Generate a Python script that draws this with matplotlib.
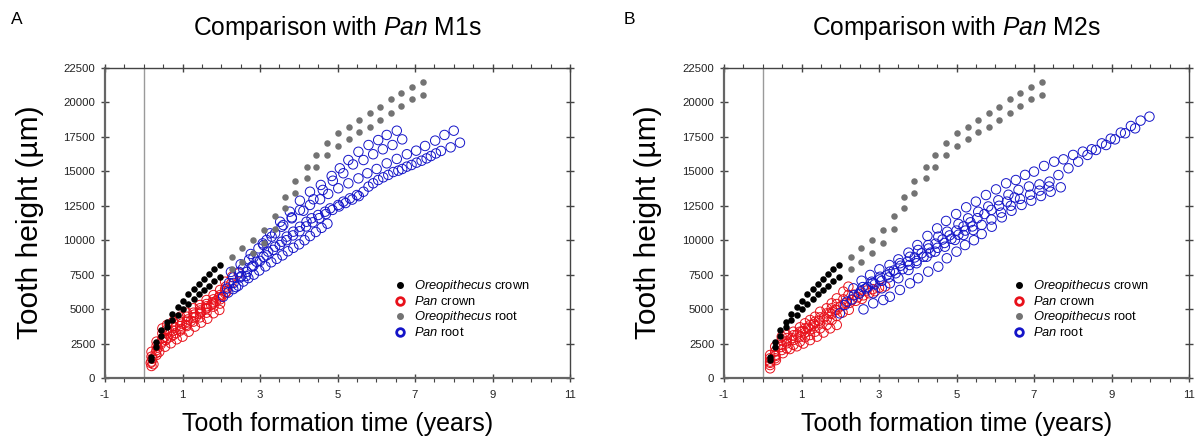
import matplotlib
matplotlib.use('Agg')
import matplotlib.pyplot as plt
from matplotlib.lines import Line2D
from matplotlib.ticker import MultipleLocator

plt.rcParams['font.family'] = ['Liberation Sans', 'DejaVu Sans']
plt.rcParams['mathtext.fontset'] = 'custom'
plt.rcParams['mathtext.it'] = 'Liberation Sans:italic'
plt.rcParams['mathtext.rm'] = 'Liberation Sans'

# ---------------- data ----------------
oreo_crown_x = [0.19, 0.32, 0.45, 0.59, 0.73, 0.88, 1.00, 1.15, 1.29, 1.42, 1.56, 1.69, 1.82, 1.98]
oreo_crown_upper = [1550, 2590, 3480, 4090, 4650, 5180, 5610, 6070, 6440, 6820, 7160, 7530, 7890, 8200]
oreo_crown_lower = [1300, 2230, 3070, 3680, 4210, 4570, 4980, 5350, 5710, 6070, 6390, 6700, 7040, 7350]

oreo_root_x = [2.27, 2.53, 2.81, 3.10, 3.39, 3.65, 3.90, 4.20, 4.45, 4.72, 5.00, 5.30, 5.56, 5.84, 6.10, 6.37, 6.64, 6.92, 7.20]
oreo_root_upper = [8810, 9410, 10020, 10740, 11760, 13160, 14320, 15340, 16190, 17050, 17780, 18240, 18730, 19210, 19690, 20230, 20660, 21150, 21460]
oreo_root_lower = [7890, 8440, 9100, 9820, 10790, 12320, 13400, 14490, 15340, 16160, 16840, 17320, 17880, 18240, 18730, 19260, 19740, 20230, 20540]

# Panel A: Pan M1 crowns
m1_crown_x = [
    [0.20, 0.33, 0.48, 0.60, 0.76, 0.94, 1.11, 1.28, 1.45, 1.62, 1.80, 1.97, 2.10],
    [0.20, 0.33, 0.48, 0.60, 0.76, 0.94, 1.11, 1.28, 1.45, 1.62, 1.80, 1.97, 2.12, 2.28, 2.45],
    [0.20, 0.33, 0.48, 0.60, 0.76, 0.94, 1.11, 1.28, 1.45, 1.62, 1.80, 1.97, 2.10],
    [0.20, 0.33, 0.48, 0.60, 0.76, 0.94, 1.11, 1.28, 1.45, 1.62, 1.80, 1.97],
    [0.25, 0.40, 0.55, 0.70, 0.85, 1.00, 1.16, 1.32, 1.48, 1.64, 1.80, 1.95],
    [0.22, 0.36, 0.51, 0.66, 0.82, 0.98, 1.14, 1.30, 1.46, 1.62, 1.78, 1.94, 2.10, 2.26],
    [0.18, 0.31, 0.44, 0.57, 0.70, 0.83, 0.96, 1.09, 1.22, 1.35, 1.48, 1.61, 1.74, 1.87, 2.00, 2.13],
]
m1_crown_y = [
    [1900, 2640, 3600, 3850, 4090, 4450, 4740, 5060, 5300, 5660, 6020, 6390, 6990],
    [1550, 2320, 3240, 3530, 3770, 4090, 4450, 4740, 5060, 5370, 5710, 6020, 6630, 7350, 7600],
    [1190, 2030, 2880, 3240, 3440, 3770, 4090, 4400, 4690, 5060, 5420, 5710, 6150],
    [870, 1670, 2640, 2880, 3120, 3440, 3770, 4090, 4400, 4740, 5180, 5400],
    [1000, 1900, 2270, 2520, 2810, 3000, 3360, 3730, 4020, 4300, 4700, 4940],
    [1400, 2200, 2950, 3400, 3650, 3950, 4250, 4600, 4900, 5200, 5500, 5850, 6450, 6870],
    [1100, 1800, 2450, 2750, 3000, 3250, 3550, 3850, 4150, 4450, 4800, 5050, 5300, 5600, 5900, 6250],
]
# Panel A: Pan M1 roots
m1_root_x = [
    [2.25, 2.50, 2.76, 3.07, 3.26, 3.52, 3.77, 4.03, 4.29, 4.57, 4.85, 5.06, 5.28, 5.54, 5.80, 6.05, 6.27, 6.53],
    [2.31, 2.56, 2.83, 3.09, 3.30, 3.56, 3.82, 4.12, 4.38, 4.62, 4.88, 5.15, 5.40, 5.67, 5.92, 6.17, 6.42, 6.67],
    [2.20, 2.46, 2.72, 2.96, 3.17, 3.39, 3.60, 3.82, 4.03, 4.29, 4.55, 4.76, 5.02, 5.28, 5.54, 5.77, 6.01, 6.27, 6.53, 6.79, 7.03, 7.26, 7.52, 7.76, 8.00],
    [2.52, 2.79, 3.09, 3.39, 3.69, 4.03, 4.33, 4.68, 5.02, 5.32, 5.67, 5.92, 6.18, 6.44, 6.67, 6.91, 7.17, 7.41, 7.67, 7.92, 8.16],
    [2.38, 2.64, 2.91, 3.21, 3.56, 3.86, 4.20, 4.50, 4.81, 5.15, 5.50, 5.80, 6.05, 6.31, 6.57, 6.79, 7.04, 7.30, 7.54],
    [2.05, 2.18, 2.31, 2.44, 2.57, 2.70, 2.84, 2.98, 3.14, 3.29, 3.43, 3.58, 3.72, 3.86, 4.01, 4.15, 4.29, 4.44, 4.59, 4.74],
    [2.15, 2.32, 2.49, 2.66, 2.83, 3.00, 3.17, 3.34, 3.51, 3.68, 3.85, 4.02, 4.19, 4.36, 4.53, 4.70, 4.87, 5.04, 5.21, 5.38, 5.55],
]
m1_root_y = [
    [7700, 8250, 9000, 9770, 10500, 11340, 12070, 12870, 13520, 14010, 14660, 15220, 15820, 16420, 16910, 17270, 17640, 17950],
    [7300, 7950, 8750, 9650, 10260, 10980, 11590, 12140, 12970, 13650, 14320, 14860, 15500, 15820, 16240, 16600, 16910, 17320],
    [6900, 7700, 8600, 9410, 10020, 10500, 11100, 11660, 12190, 12560, 12970, 13360, 13770, 14130, 14490, 14860, 15170, 15580, 15900, 16240, 16500, 16840, 17230, 17640, 17950],
    [7400, 8080, 8800, 9530, 10260, 10980, 11590, 12070, 12560, 13040, 13520, 14130, 14565, 14950, 15170, 15460, 15770, 16110, 16480, 16740, 17080],
    [6600, 7400, 8440, 9170, 9890, 10620, 11340, 11830, 12310, 12800, 13280, 13890, 14370, 14740, 15050, 15340, 15630, 15940, 16300],
    [5900, 6200, 6450, 6700, 7000, 7250, 7500, 7800, 8100, 8400, 8650, 8900, 9200, 9450, 9700, 10000, 10300, 10600, 10900, 11200],
    [6500, 6900, 7300, 7700, 8150, 8500, 8900, 9300, 9650, 10000, 10350, 10650, 11000, 11300, 11600, 11900, 12200, 12450, 12700, 12950, 13200],
]

# Panel B: Pan M2 crowns
m2_crown_x = [
    [0.19, 0.32, 0.49, 0.62, 0.79, 0.96, 1.09, 1.22, 1.35, 1.48, 1.65, 1.78, 1.91, 2.08, 2.21],
    [0.19, 0.32, 0.49, 0.62, 0.79, 0.96, 1.09, 1.22, 1.35, 1.48, 1.65, 1.78, 1.91, 2.08, 2.21, 2.36, 2.52, 2.68, 2.84, 3.00, 3.16],
    [0.19, 0.32, 0.49, 0.62, 0.79, 0.96, 1.09, 1.22, 1.35, 1.48, 1.65, 1.78, 1.91, 2.08, 2.24, 2.40, 2.56],
    [0.19, 0.32, 0.49, 0.62, 0.79, 0.96, 1.09, 1.22, 1.35, 1.48, 1.65, 1.78, 1.91, 2.06, 2.22],
    [0.19, 0.34, 0.52, 0.70, 0.88, 1.05, 1.22, 1.40, 1.57, 1.74, 1.91],
    [0.19, 0.33, 0.47, 0.61, 0.75, 0.89, 1.03, 1.17, 1.31, 1.45, 1.59, 1.73, 1.87, 2.01, 2.15, 2.30, 2.45, 2.60, 2.75, 2.90],
]
m2_crown_y = [
    [1670, 2270, 3000, 3120, 3360, 3680, 3970, 4210, 4450, 4810, 5060, 5420, 5780, 6270, 6630],
    [1430, 1910, 2760, 2900, 3100, 3360, 3600, 3850, 4090, 4400, 4690, 5060, 5370, 5710, 6020, 6050, 6200, 6350, 6450, 6550, 6650],
    [1190, 1670, 2400, 2520, 2760, 3000, 3290, 3530, 3770, 4020, 4260, 4650, 4940, 5300, 5450, 5600, 5750],
    [940, 1430, 2030, 2150, 2400, 2640, 2950, 3120, 3360, 3600, 3850, 4210, 4500, 4750, 4950],
    [700, 1300, 1800, 2100, 2300, 2500, 2750, 3000, 3300, 3600, 3850],
    [1100, 1600, 2250, 2650, 2900, 3150, 3400, 3650, 3900, 4150, 4400, 4700, 4950, 5200, 5450, 5650, 5850, 6000, 6150, 6300],
]
# Panel B: Pan M2 roots
m2_root_x = [
    [2.34, 2.55, 2.77, 3.01, 3.27, 3.50, 3.76, 3.99, 4.25, 4.50, 4.73, 4.99, 5.25, 5.50, 5.76, 6.02, 6.28, 6.53, 6.77, 7.00, 7.26, 7.52, 7.76, 8.01, 8.26, 8.49, 8.75, 8.98, 9.24, 9.50, 9.75, 9.98],
    [2.58, 2.81, 3.03, 3.28, 3.54, 3.80, 4.01, 4.27, 4.53, 4.76, 5.05, 5.30, 5.56, 5.82, 6.08, 6.34, 6.60, 6.87, 7.14, 7.40, 7.63, 7.89, 8.14, 8.38, 8.60, 8.86, 9.09, 9.35, 9.61],
    [2.85, 3.07, 3.28, 3.50, 3.76, 3.97, 4.23, 4.45, 4.70, 4.96, 5.18, 5.43, 5.65, 5.90, 6.15, 6.40, 6.64, 6.90, 7.14, 7.39],
    [2.60, 2.85, 3.11, 3.28, 3.54, 3.80, 4.01, 4.27, 4.53, 4.75, 5.00, 5.22, 5.45, 5.65, 5.91, 6.17, 6.42, 6.68, 6.93, 7.18, 7.43, 7.69],
    [2.12, 2.30, 2.48, 2.66, 2.84, 3.02, 3.20, 3.38, 3.56, 3.74, 3.92, 4.10, 4.28, 4.46, 4.64, 4.82, 5.00, 5.18, 5.36, 5.54, 5.72, 5.90, 6.10, 6.30, 6.50],
    [1.99, 2.17, 2.35, 2.53, 2.71, 2.89, 3.07, 3.25, 3.43, 3.61, 3.79, 3.97, 4.15, 4.33, 4.51, 4.69, 4.87, 5.05, 5.23, 5.41],
]
m2_root_y = [
    [6510, 7060, 7480, 7890, 8200, 8610, 9100, 9650, 10310, 10860, 11400, 11900, 12390, 12800, 13280, 13690, 14130, 14370, 14740, 14980, 15390, 15700, 15870, 16190, 16430, 16600, 17030, 17370, 17810, 18290, 18680, 18970],
    [6600, 6990, 7350, 7720, 8330, 8800, 9290, 9650, 10260, 10620, 11180, 11590, 12070, 12450, 12900, 13300, 13650, 13900, 14050, 14250, 14730, 15220, 15700, 16190, 16550, 16910, 17320, 17760, 18120],
    [6150, 6510, 6870, 7240, 7840, 8330, 8800, 9170, 9530, 10020, 10380, 10740, 11110, 11500, 12000, 12500, 13000, 13300, 13600, 13900],
    [4980, 5420, 5660, 5900, 6390, 6870, 7240, 7720, 8080, 8690, 9170, 9650, 10000, 10450, 10980, 11660, 12140, 12560, 12870, 13210, 13520, 13840],
    [5300, 5700, 6100, 6500, 6900, 7150, 7450, 7800, 8150, 8450, 8750, 9050, 9400, 9750, 10050, 10350, 10700, 11000, 11300, 11600, 11900, 12200, 12500, 12800, 13100],
    [4690, 5540, 6000, 6300, 6600, 6800, 7050, 7300, 7600, 7900, 8200, 8500, 8800, 9100, 9450, 9800, 10100, 10400, 10700, 11000],
]

panel_titles = [r'Comparison with $\mathit{Pan}$ M1s', r'Comparison with $\mathit{Pan}$ M2s']
panel_letters = ['A', 'B']
legend_labels = [r'$\mathit{Oreopithecus}$ crown', r'$\mathit{Pan}$ crown',
                 r'$\mathit{Oreopithecus}$ root', r'$\mathit{Pan}$ root']
y_ticks = [0, 2500, 5000, 7500, 10000, 12500, 15000, 17500, 20000, 22500]
x_ticks = [-1, 1, 3, 5, 7, 9, 11]

RED = '#e8101a'
BLUE = '#1414c8'
GRAY = '#737373'

# ---------------- figure ----------------
fig = plt.figure(figsize=(11.98, 4.42), dpi=100)
W, H = 1198, 442
axA = fig.add_axes([105 / W, 64 / H, 465 / W, 310 / H])
axB = fig.add_axes([724 / W, 64 / H, 465 / W, 310 / H])


def draw(ax, crown_x, crown_y, root_x, root_y):
    ax.axvline(0, color='#9a9a9a', lw=1.0, zorder=0)
    for xs, ys in zip(crown_x, crown_y):
        ax.scatter(xs, ys, s=46, facecolors='none', edgecolors=RED, linewidths=0.7, zorder=2)
    for xs, ys in zip(root_x, root_y):
        ax.scatter(xs, ys, s=46, facecolors='none', edgecolors=BLUE, linewidths=0.7, zorder=2)
    for ys in (oreo_crown_upper, oreo_crown_lower):
        ax.scatter(oreo_crown_x, ys, s=22, color='black', linewidths=0, zorder=3)
    for ys in (oreo_root_upper, oreo_root_lower):
        ax.scatter(oreo_root_x, ys, s=22, color=GRAY, linewidths=0, zorder=3)

    ax.set_xlim(-1, 11)
    ax.set_ylim(0, 22500)
    ax.set_xticks(x_ticks)
    ax.set_xticklabels([str(v) for v in x_ticks])
    ax.xaxis.set_minor_locator(MultipleLocator(0.5))
    ax.set_yticks(y_ticks)
    ax.set_yticklabels([str(v) for v in y_ticks])
    ax.tick_params(axis='x', which='major', direction='inout', length=6, width=1,
                   top=True, bottom=True, labelsize=8.2, colors='#444444', pad=6)
    ax.tick_params(axis='x', which='minor', direction='out', length=3, width=0.8,
                   top=True, bottom=True, colors='#444444')
    ax.tick_params(axis='y', which='major', direction='inout', length=6, width=1,
                   left=True, right=True, labelsize=8.2, colors='#444444', pad=4)
    for lab in ax.get_xticklabels() + ax.get_yticklabels():
        lab.set_color('#222222')
    for side in ('left', 'bottom'):
        ax.spines[side].set_linewidth(1.6)
        ax.spines[side].set_color('#666666')
    for side in ('top', 'right'):
        ax.spines[side].set_linewidth(1.0)
        ax.spines[side].set_color('#444444')

    handles = [
        Line2D([], [], ls='', marker='o', markersize=4, color='black'),
        Line2D([], [], ls='', marker='o', markersize=5.5, mfc='none', mec=RED, mew=2.0),
        Line2D([], [], ls='', marker='o', markersize=4, color=GRAY),
        Line2D([], [], ls='', marker='o', markersize=5.5, mfc='none', mec=BLUE, mew=2.0),
    ]
    ax.legend(handles, legend_labels, loc='upper left', bbox_to_anchor=(0.617, 0.322),
              frameon=False, fontsize=9.3, handlelength=1.2, handletextpad=0.5,
              labelspacing=0.08, borderpad=0, borderaxespad=0)


draw(axA, m1_crown_x, m1_crown_y, m1_root_x, m1_root_y)
draw(axB, m2_crown_x, m2_crown_y, m2_root_x, m2_root_y)

for i, (ax, cx) in enumerate(((axA, 337.5), (axB, 956.5))):
    fig.text(cx / W, 1 - 28 / H, panel_titles[i], ha='center', va='center', fontsize=17.7)
    fig.text(cx / W, 1 - 424 / H, 'Tooth formation time (years)', ha='center', va='center', fontsize=18)
    lx = 30 if i == 0 else 648
    fig.text(lx / W, 1 - 222 / H, 'Tooth height (µm)', ha='center', va='center',
             rotation=90, fontsize=21.5)
    px = 17 if i == 0 else 629
    fig.text(px / W, 1 - 20 / H, panel_letters[i], ha='center', va='center', fontsize=12.5)

fig.savefig('out.png', dpi=100)
